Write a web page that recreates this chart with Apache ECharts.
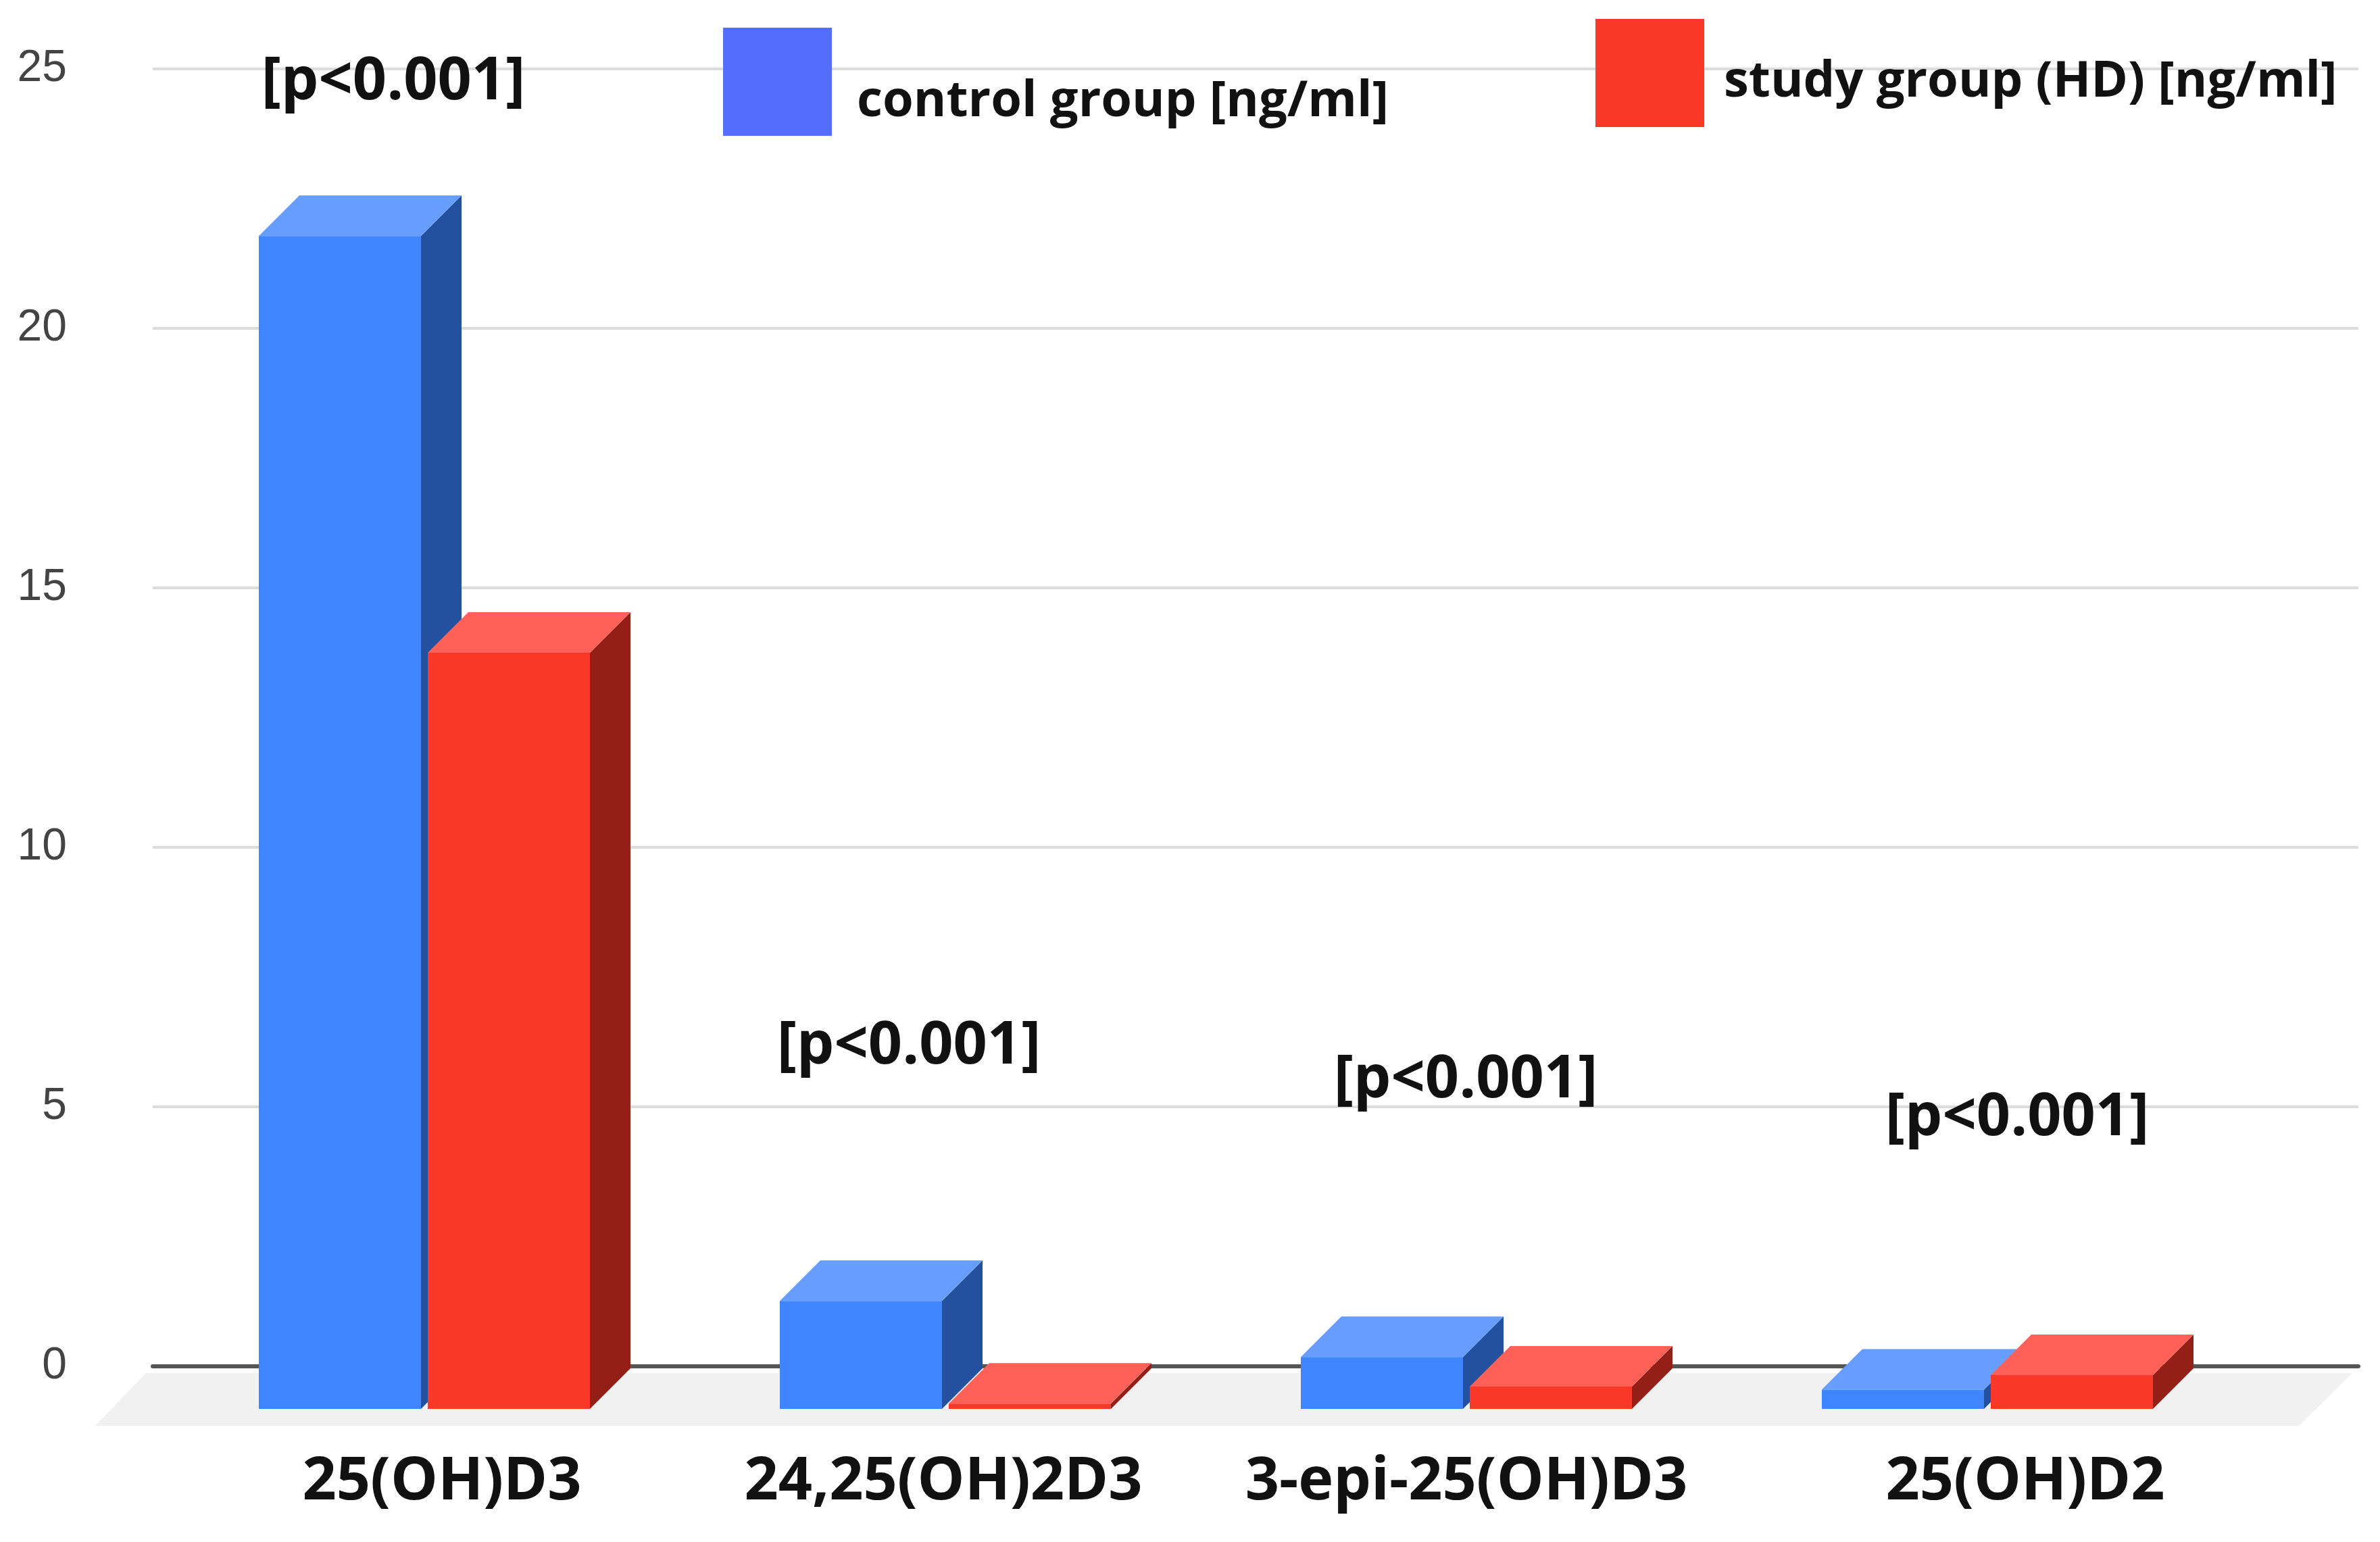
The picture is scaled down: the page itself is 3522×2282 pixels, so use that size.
<!DOCTYPE html>
<html><head><meta charset="utf-8">
<style>html,body{margin:0;padding:0;background:#fff}#c{width:3522px;height:2282px}</style>
<script src="https://cdn.jsdelivr.net/npm/echarts@6/dist/echarts.min.js"></script>
</head><body><div id="c"></div>
<script>
const categories = ['25(OH)D3','24,25(OH)2D3','3-epi-25(OH)D3','25(OH)D2'];
const controlGroup = [22.6,2.08,1.0,0.37];
const studyGroup = [14.57,0.1,0.43,0.65];
const yTicks = [0,5,10,15,20,25];
const pLabel = '[p<0.001]';
const controlName = 'control group [ng/ml]';
const studyName = 'study group (HD) [ng/ml]';

const gridTop = 102, gridBottom = 2282 - 2022;
const depth = 60, frontDrop = 63, barW = 240, gap = 10;
const looks = [
  {front:'#3f85ff', top:'#669dff', side:'#23519f', off:-gap/2-barW},
  {front:'#f93829', top:'#ff6158', side:'#931f16', off:gap/2}
];
const labelPads = [[0,0,0,52],[0,6,0,0],[0,0,0,0],[0,0,0,112]];

function renderBar(params, api){
  const look = looks[params.seriesIndex];
  const c = api.coord([api.value(0), api.value(1)]);
  const base = api.coord([api.value(0), 0]);
  const x0 = c[0] + look.off, x1 = x0 + barW;
  const yt = c[1] + frontDrop, yb = base[1] + frontDrop;
  return {type:'group', children:[
    {type:'polygon', shape:{points:[[x1,yt],[x1+depth,yt-depth],[x1+depth,yb-depth],[x1,yb]]}, style:{fill:look.side}},
    {type:'polygon', shape:{points:[[x0,yt],[x0+depth,yt-depth],[x1+depth,yt-depth],[x1,yt]]}, style:{fill:look.top}},
    {type:'rect', shape:{x:x0,y:yt,width:barW,height:yb-yt}, style:{fill:look.front}}
  ]};
}
const pText = (x,y)=>({type:'text', x, y, z:10, style:{text:pLabel, fontFamily:'Open Sans', fontWeight:700, fontSize:88, fill:'#111', align:'center', verticalAlign:'middle'}});
const legendFont = {fontFamily:'Open Sans', fontWeight:700, fontSize:74, color:'#111'};
const legendBase = {orient:'horizontal', padding:0, itemWidth:161, itemHeight:160, selectedMode:false, textStyle:legendFont};

const chart = echarts.init(document.getElementById('c'));
chart.setOption({
  animation:false, backgroundColor:'#fff',
  grid:[
    {left:226, right:3522-3490, top:gridTop, bottom:gridBottom},
    {left:242.5, width:3084, top:gridTop, bottom:gridBottom}
  ],
  xAxis:[
    {type:'category', gridIndex:0, data:[''], axisTick:{show:false}, axisLabel:{show:false},
     axisLine:{lineStyle:{color:'#555', width:6}}},
    {type:'category', gridIndex:1, axisLine:{show:false}, axisTick:{show:false},
     data:categories.map((v,i)=>({value:v, textStyle:{padding:labelPads[i]}})),
     axisLabel:{interval:0, margin:128, fontFamily:'Open Sans', fontWeight:700, fontSize:88, color:'#111'}}
  ],
  yAxis:[
    {type:'value', gridIndex:0, min:0, max:25, interval:5, axisLine:{show:false}, axisTick:{show:false},
     splitLine:{lineStyle:{color:'#dcdcdc', width:4}},
     axisLabel:{margin:127, fontFamily:'Liberation Sans', fontSize:66, color:'#444', formatter:v=>yTicks.includes(v)?String(v):''}},
    {type:'value', gridIndex:1, min:0, max:25, interval:5, show:false}
  ],
  legend:[
    Object.assign({}, legendBase, {left:1070, top:41,
      formatter:n=>'{t|'+n+'}',
      textStyle:Object.assign({}, legendFont, {rich:{t:Object.assign({}, legendFont, {padding:[60,0,0,32]})}}),
      data:[{name:controlName, icon:'rect', itemStyle:{color:'#536dff'}}]}),
    Object.assign({}, legendBase, {left:2361, top:28,
      formatter:n=>'{t|'+n+'}',
      textStyle:Object.assign({}, legendFont, {rich:{t:Object.assign({}, legendFont, {padding:[28,0,0,24]})}}),
      data:[{name:studyName, icon:'rect', itemStyle:{color:'#f93829'}}]})
  ],
  graphic:[
    {type:'polygon', z:-1, shape:{points:[[216,2032],[3481,2032],[3402,2110],[141,2110]]}, style:{fill:'#f1f1f1'}},
    pText(582,122), pText(1345,1549), pText(2169,1599), pText(2985,1655)
  ],
  series:[
    {name:controlName, type:'custom', xAxisIndex:1, yAxisIndex:1, clip:false, z:3, renderItem:renderBar,
     itemStyle:{color:'#3f85ff'}, encode:{x:0,y:1}, data:categories.map((_,i)=>[i,controlGroup[i]])},
    {name:studyName, type:'custom', xAxisIndex:1, yAxisIndex:1, clip:false, z:4, renderItem:renderBar,
     itemStyle:{color:'#f93829'}, encode:{x:0,y:1}, data:categories.map((_,i)=>[i,studyGroup[i]])}
  ]
});
</script></body></html>
